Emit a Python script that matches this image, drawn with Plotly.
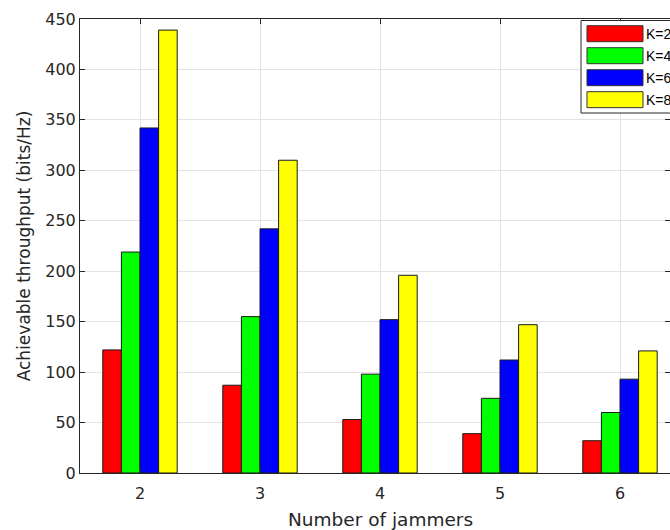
import plotly.graph_objects as go

jammers = [2, 3, 4, 5, 6]
series_names = ["K=2", "K=4", "K=6", "K=8"]
k2 = [122, 87, 53, 39, 32]
k4 = [219, 155, 98, 74, 60]
k6 = [342, 242, 152, 112, 93]
k8 = [439, 310, 196, 147, 121]
series_values = [k2, k4, k6, k8]
colors = ["#ff0000", "#00ff00", "#0000ff", "#ffff00"]
y_ticks = [0, 50, 100, 150, 200, 250, 300, 350, 400, 450]

FONT = "DejaVu Sans, Verdana, sans-serif"
LFONT = "Liberation Sans, Arial, Helvetica, sans-serif"
TXT = "#262626"

fig = go.Figure()
for name, vals, c in zip(series_names, series_values, colors):
    fig.add_trace(go.Bar(
        x=jammers, y=vals, name=name,
        marker=dict(color=c, line=dict(color="#1a1a1a", width=1)),
        showlegend=False,
    ))

W, H = 670, 530
ml, mr, mt, mb = 80, 0, 19, 57
# full MATLAB-like range is [1.5, 6.5] spanning 600 px; the window crops at 670
xr_right = 1.5 + (W - ml) / 120.0

fig.update_layout(
    width=W, height=H,
    margin=dict(l=ml, r=mr, t=mt, b=mb),
    paper_bgcolor="white", plot_bgcolor="white",
    barmode="group", bargap=0.38, bargroupgap=0.0,
    font=dict(family=FONT, size=16, color=TXT),
)
fig.update_xaxes(
    range=[1.5, xr_right], tickvals=jammers, ticktext=[str(j) for j in jammers],
    showgrid=True, gridcolor="#e3e3e3", gridwidth=1,
    showline=True, linecolor=TXT, linewidth=1, mirror="ticks",
    ticks="inside", ticklen=5, tickcolor=TXT,
    tickfont=dict(size=16, color=TXT), ticklabelstandoff=6,
    zeroline=False,
)
fig.update_yaxes(
    range=[0, 450], tickvals=y_ticks,
    showgrid=True, gridcolor="#e3e3e3", gridwidth=1,
    showline=True, linecolor=TXT, linewidth=1, mirror="ticks",
    ticks="inside", ticklen=5, tickcolor=TXT,
    tickfont=dict(size=16, color=TXT),
    title=dict(text="Achievable throughput (bits/Hz)", font=dict(size=17, color=TXT), standoff=10),
    zeroline=False,
)

pw = W - ml - mr
ph = H - mt - mb
def px_x(x):
    return (x - ml) / pw
def px_y(y):
    return 1 - (y - mt) / ph

annotations = [dict(xref="paper", yref="paper", x=px_x(381), y=px_y(519),
                    text="Number of jammers", showarrow=False,
                    xanchor="center", yanchor="middle",
                    font=dict(size=18.5, color=TXT, family=FONT))]

# custom legend (MATLAB-style wide swatches), cropped at the window edge
shapes = [dict(type="rect", xref="paper", yref="paper",
               x0=px_x(581), x1=px_x(700), y0=px_y(113), y1=px_y(20.5),
               line=dict(color=TXT, width=1), fillcolor="white", layer="above")]
centers = [33.7, 55.7, 77.7, 99.7]
for name, c, yc in zip(series_names, colors, centers):
    shapes.append(dict(type="rect", xref="paper", yref="paper",
                       x0=px_x(587), x1=px_x(643), y0=px_y(yc + 8), y1=px_y(yc - 8),
                       line=dict(color="#333333", width=1), fillcolor=c, layer="above"))
    annotations.append(dict(xref="paper", yref="paper", x=px_x(644), y=px_y(yc),
                            text=name, showarrow=False, xanchor="left", yanchor="middle",
                            font=dict(size=14, color="#000000", family=LFONT)))
fig.update_layout(shapes=shapes, annotations=annotations)

fig.write_html("out.html")
